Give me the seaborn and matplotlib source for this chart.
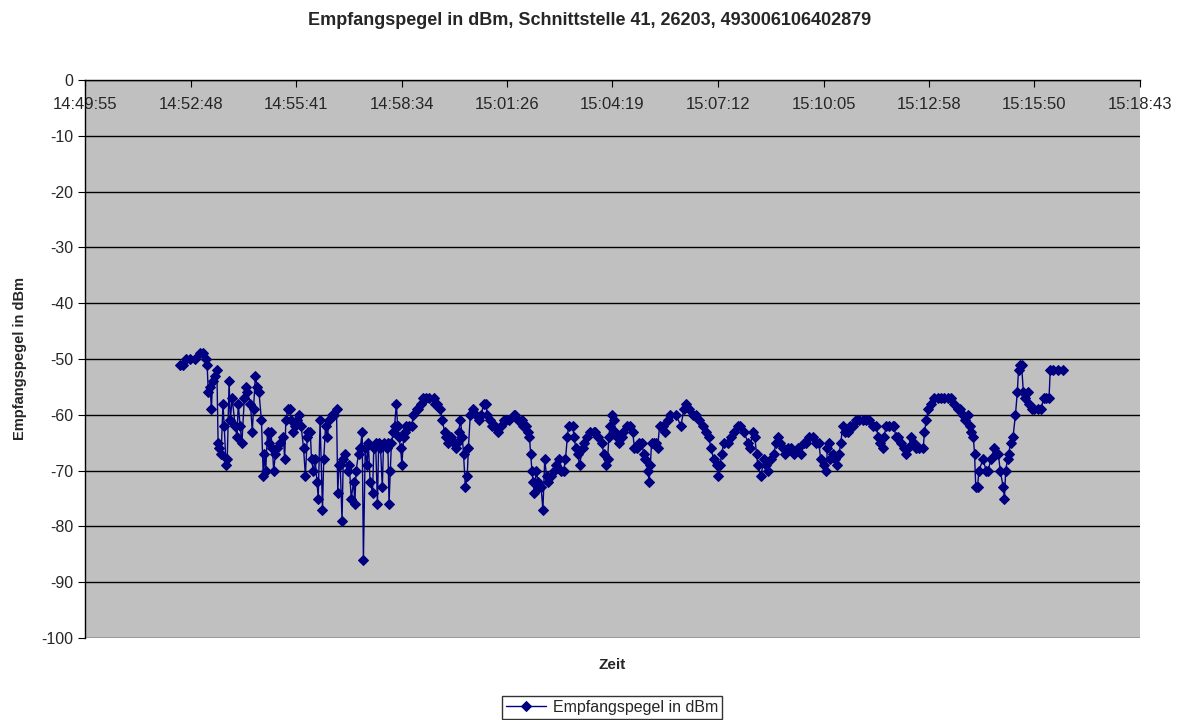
import matplotlib
matplotlib.use("Agg")
import matplotlib.pyplot as plt
import seaborn as sns
import pandas as pd

# Seconds after 14:49:55 and the received level (dBm)
seconds = [
    156, 161, 166, 172, 180, 189, 194, 198, 200, 202, 205, 207, 209, 213, 216,
    218, 220, 223, 226, 228, 231, 233, 236, 238, 241, 246, 249, 251, 254, 257,
    261, 264, 266, 271, 274, 276, 279, 282, 285, 289, 292, 294, 296, 299, 302,
    304, 307, 309, 312, 315, 320, 325, 327, 329, 332, 335, 338, 341, 344, 348,
    351, 354, 358, 361, 364, 366, 369, 371, 374, 377, 380, 382, 385, 389, 391,
    394, 397, 400, 405, 408, 412, 414, 416, 418, 421, 423, 426, 430, 433, 436,
    440, 442, 444, 448, 451, 454, 456, 459, 462, 464,
    467, 471, 473, 476, 479, 481, 484, 487, 489, 494, 496, 498, 500, 502, 505,
    507, 510, 512, 514, 517, 519, 522, 524, 526, 530, 535, 538, 543, 546, 551,
    554, 559, 564, 571, 574, 577, 582, 585, 589, 592, 595, 600, 604, 608, 610,
    612, 615, 618, 620, 623, 626, 628, 631,
    635, 640, 645, 649, 653, 656, 659, 663, 667, 672, 676, 681, 686, 690, 695,
    702, 705, 710, 715, 718, 723, 725, 728, 730, 732, 734, 736, 739, 742, 744,
    747, 750, 753, 756, 759, 764, 768, 772, 776, 779, 784, 787, 790, 792,
    799, 801, 804, 807, 810, 815, 818, 823, 827, 833, 836, 841, 846, 850, 853,
    856, 858, 860, 863, 866, 868, 871, 874, 879, 882, 887, 892, 897, 900, 904,
    907, 912, 915, 918, 922, 924, 926, 928, 932, 935, 938, 941, 946, 950, 955, 958,
    968, 976, 981, 984, 989, 996, 1000, 1005, 1012, 1017, 1022, 1025, 1030, 1035,
    1037, 1040, 1043, 1046, 1053, 1058, 1063, 1069, 1073,
    1079, 1086, 1089, 1094, 1097, 1100, 1102, 1107, 1112, 1115, 1118, 1123, 1128,
    1132, 1135, 1138, 1143, 1146, 1151, 1156, 1161, 1168, 1173, 1178, 1181, 1186,
    1192, 1197, 1202, 1205, 1210, 1214, 1216, 1219, 1221, 1225, 1228, 1232, 1235,
    1238, 1241, 1245, 1250, 1253, 1258, 1263, 1268, 1274, 1279, 1284, 1291, 1296,
    1299, 1302, 1307, 1309, 1312, 1317, 1323, 1325, 1328, 1332, 1337, 1341, 1345,
    1348, 1353, 1358, 1361, 1366, 1373, 1375, 1378, 1381, 1386, 1391, 1397,
    1402, 1407, 1414, 1419, 1424, 1430, 1433, 1438, 1442, 1447, 1449, 1451, 1455,
    1457, 1459, 1462, 1464, 1471, 1476, 1479, 1484, 1489, 1492, 1496, 1499, 1504,
    1506, 1508, 1511, 1513, 1516, 1520, 1524, 1527, 1529, 1531, 1534, 1537, 1540,
    1545, 1547, 1551, 1555, 1561, 1566, 1570, 1574, 1579, 1581, 1586, 1594, 1602,
]
dbm = [
    -51, -51, -50, -50, -50, -49, -49, -50, -51, -56, -55, -59, -54, -53, -52,
    -65, -66, -67, -58, -62, -69, -68, -54, -61, -57, -62, -64, -58, -62, -65,
    -57, -55, -56, -58, -63, -59, -53, -55, -56, -61, -71, -67, -70, -63, -65,
    -63, -66, -70, -67, -66, -65, -64, -68, -61, -59, -59, -61, -63, -62, -61,
    -60, -62, -66, -71, -64, -63, -63, -68, -70, -68, -72, -75, -61, -77, -68,
    -62, -64, -61, -60, -60, -59, -74, -69, -69, -79, -68, -67, -70, -69, -75,
    -72, -76, -70, -67, -66, -63, -86, -66, -69, -65,
    -72, -74, -66, -65, -76, -65, -66, -73, -65, -66, -65, -76, -70, -65, -63,
    -62, -58, -62, -64, -66, -69, -64, -63, -62, -62, -62, -60, -59, -59, -58,
    -57, -57, -57, -57, -58, -58, -59, -61, -63, -64, -65, -64, -65, -66, -65,
    -63, -61, -64, -67, -73, -71, -66, -60,
    -59, -60, -61, -60, -58, -58, -60, -61, -62, -62, -63, -62, -61, -61, -61,
    -60, -60, -61, -61, -62, -62, -63, -64, -67, -70, -72, -74, -70, -72, -73,
    -73, -77, -68, -71, -72, -71, -70, -69, -68, -70, -70, -68, -64, -62,
    -62, -64, -66, -67, -69, -66, -65, -64, -63, -63, -63, -64, -65, -67, -69,
    -68, -64, -62, -60, -61, -63, -64, -65, -64, -63, -62, -62, -63, -66, -66,
    -65, -65, -67, -68, -70, -72, -69, -65, -65, -65, -66, -62, -62, -63, -61, -60,
    -60, -62, -59, -58, -59, -60, -60, -61, -62, -63, -64, -66, -68, -69,
    -71, -69, -67, -65, -65, -64, -63, -62, -62,
    -63, -65, -66, -63, -64, -67, -69, -71, -68, -69, -70, -68, -67,
    -65, -64, -65, -66, -67, -66, -66, -67, -66, -67, -65, -65, -64,
    -64, -65, -65, -68, -69, -70, -66, -65, -68, -67, -68, -69, -67,
    -65, -62, -63, -63, -62, -62, -61, -61, -61, -61, -61, -62, -62,
    -64, -65, -66, -64, -62, -62, -62, -62, -64, -64, -65, -66, -67,
    -66, -64, -65, -66, -66, -66, -63, -61, -59, -58, -57, -57,
    -57, -57, -57, -57, -58, -59, -59, -60, -61, -60, -62, -63, -64,
    -67, -73, -73, -70, -68, -70, -70, -68, -66, -67, -67, -70, -73,
    -75, -70, -68, -67, -65, -64, -60, -56, -52, -51, -51, -56, -57,
    -56, -58, -59, -59, -59, -59, -57, -57, -57, -52, -52, -52, -52,
]

tick_seconds = [0, 173, 346, 519, 691, 864, 1037, 1210, 1383, 1555, 1728]
time_labels = ["14:49:55", "14:52:48", "14:55:41", "14:58:34", "15:01:26", "15:04:19",
               "15:07:12", "15:10:05", "15:12:58", "15:15:50", "15:18:43"]
y_ticks = [0, -10, -20, -30, -40, -50, -60, -70, -80, -90, -100]

df = pd.DataFrame({"Sekunden": seconds, "Pegel": dbm})

sns.set_style("white")
plt.rcParams['font.family'] = ['Liberation Sans', 'DejaVu Sans']
plt.rcParams['axes.unicode_minus'] = False

fig = plt.figure(figsize=(11.8, 7.2), dpi=100)
ax = fig.add_axes([85 / 1180, 82 / 720, 1055 / 1180, 558 / 720])
ax.set_facecolor('#C0C0C0')

sns.lineplot(data=df, x="Sekunden", y="Pegel", ax=ax, color='#000080',
             marker='D', markersize=5, markeredgecolor='#000080', linewidth=1,
             estimator=None, sort=False, label="Empfangspegel in dBm", legend=False)

ax.set_xlim(0, 1728)
ax.set_ylim(-100, 0)
ax.set_yticks(y_ticks)
ax.yaxis.grid(True, color='black', linewidth=1)
ax.set_axisbelow(True)

# x axis sits at y = 0 (top), labels hang just below it
ax.xaxis.tick_top()
ax.set_xticks(tick_seconds, time_labels)
ax.tick_params(axis='x', direction='in', length=5, pad=-23, labelsize=12, color='black')
ax.tick_params(axis='y', direction='out', length=5, labelsize=11.5, color='black', left=True)

for side in ['right', 'bottom']:
    ax.spines[side].set_visible(False)
for side in ['top', 'left']:
    ax.spines[side].set_color('black')
    ax.spines[side].set_linewidth(1)

ax.set_ylabel("Empfangspegel in dBm", fontsize=10.5, fontweight='bold')
ax.yaxis.set_label_coords(-58 / 1055, 0.5)
ax.set_xlabel("Zeit", fontsize=11, fontweight='bold')
ax.xaxis.set_label_position('bottom')
ax.xaxis.set_label_coords(0.5, -20 / 558)

fig.suptitle("Empfangspegel in dBm, Schnittstelle 41, 26203, 493006106402879",
             fontsize=13, fontweight='bold', y=1 - 12 / 720, va='top')

handles, labels = ax.get_legend_handles_labels()
leg = fig.legend(handles, labels, loc='lower center', bbox_to_anchor=(612 / 1180, -7 / 720),
                 frameon=True, fancybox=False, edgecolor='black', fontsize=11.5,
                 borderpad=0.25, handlelength=2.5, handletextpad=0.4)
leg.get_frame().set_linewidth(1)

fig.savefig("out.png", dpi=100)
